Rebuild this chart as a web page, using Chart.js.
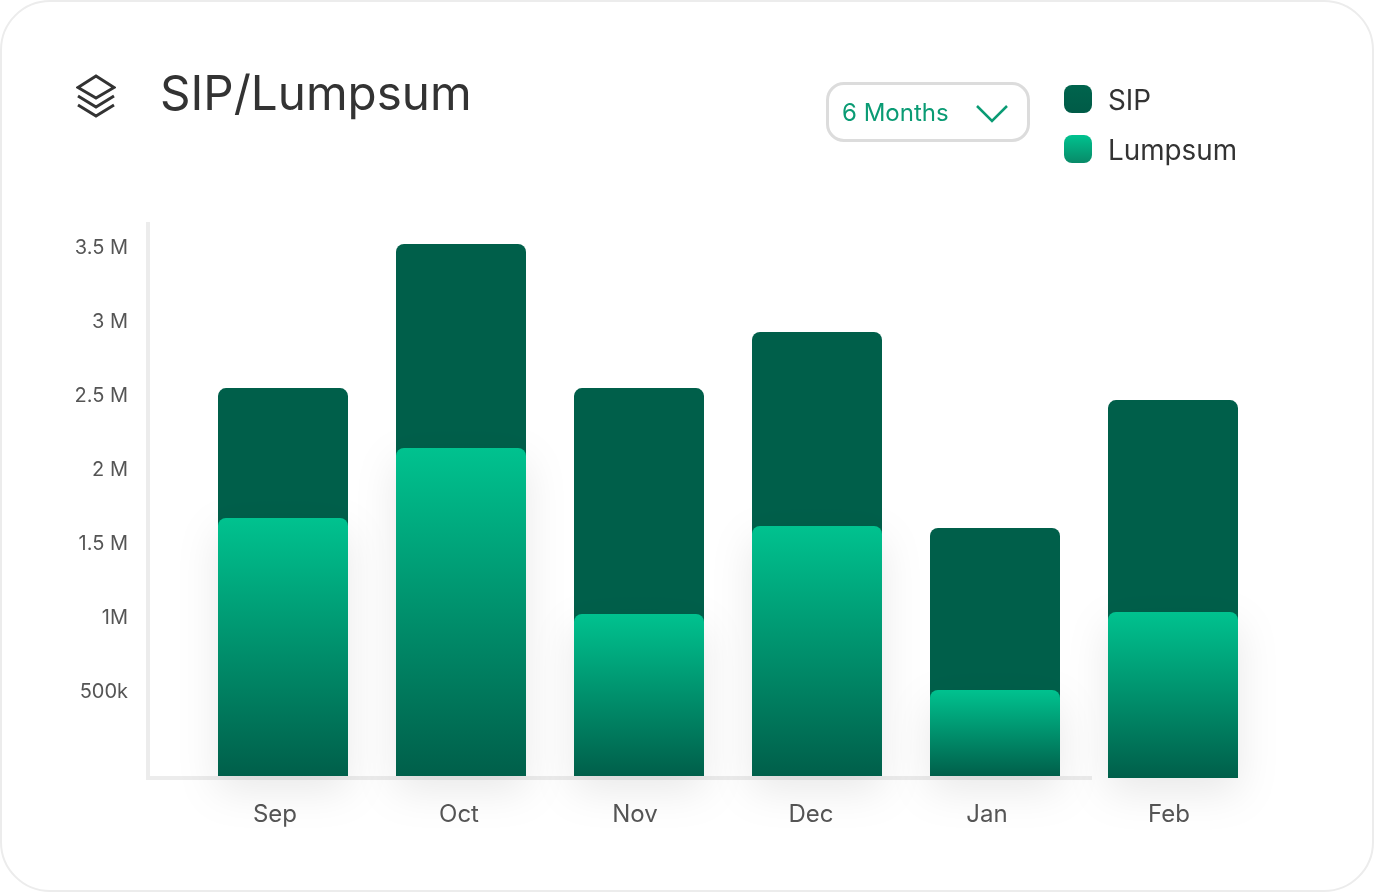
<!DOCTYPE html>
<html>
<head>
<meta charset="utf-8">
<title>SIP/Lumpsum</title>
<script src="https://cdn.jsdelivr.net/npm/chart.js@4"></script>
<style>
    html, body { margin: 0; padding: 0; background: #fff; }
    body { width: 1374px; height: 892px; position: relative; overflow: hidden; font-family: Inter, sans-serif; }
    #card { position: absolute; left: 0; top: 0; width: 1370px; height: 888px; border: 2px solid #ececec; border-radius: 50px; }
    #graph { position: absolute; left: 0; top: 0; }
    #icon { position: absolute; left: 76px; top: 74px; }
    #title { position: absolute; left: 160px; top: 64px; font-size: 47.6px; line-height: 58px; color: #333; }
    #select { position: absolute; left: 826px; top: 82px; width: 198px; height: 54px; border: 3px solid #dcdcdc; border-radius: 18px; }
    #select span { position: absolute; left: 13px; top: 12px; font-size: 24px; line-height: 32px; color: #0a9b74; }
    #select svg { position: absolute; left: 147px; top: 20px; }
    .legendBox { position: absolute; left: 1064px; width: 28px; height: 28px; border-radius: 8px; }
    .legendText { position: absolute; left: 1108px; font-size: 27.8px; line-height: 34px; color: #333; }
</style>
</head>
<body>
<div id="card"></div>
<canvas id="graph" width="1374" height="892"></canvas>
<svg id="icon" width="40" height="44" viewBox="0 0 40 44" fill="none" stroke="#333" stroke-width="3">
    <path d="M20 2 L38 13.5 L20 24 L2 13.5 Z"/>
    <path d="M2 22 L20 33 L38 22"/>
    <path d="M2 31 L20 42 L38 31"/>
</svg>
<div id="title">SIP/Lumpsum</div>
<div id="select">
    <span>6 Months</span>
    <svg width="32" height="18" viewBox="0 0 32 18" fill="none" stroke="#0a9b74" stroke-width="2.5"><path d="M1 1 L16 16 L31 1"/></svg>
</div>
<div class="legendBox" style="top:85px;background:linear-gradient(#00644d,#005b47)"></div>
<div class="legendText" style="top:83px">SIP</div>
<div class="legendBox" style="top:135px;background:linear-gradient(#00c28f,#088a68)"></div>
<div class="legendText" style="top:133px">Lumpsum</div>

<script>
var months = ["Sep", "Oct", "Nov", "Dec", "Jan", "Feb"];
var sipValues = [878000, 1379000, 1526000, 1311000, 1095000, 1432000];
var lumpsumValues = [1662000, 2135000, 1014000, 1608000, 500000, 1027000];
// the bars start a little under the 0 of the labels, Feb a bit lower than the others
var barFloors = [-81000, -81000, -81000, -81000, -81000, -94500];
var tickValues = [500000, 1000000, 1500000, 2000000, 2500000, 3000000, 3500000];
var tickLabels = ["500k", "1M", "1.5 M", "2 M", "2.5 M", "3 M", "3.5 M"];
// month labels do not sit exactly under their bars
var monthLabelShift = [-8, -2, -4, -6, -8, -4];

var lumpsumData = months.map(function (m, i) {
    return [barFloors[i], lumpsumValues[i]];
});
var sipData = months.map(function (m, i) {
    return [barFloors[i], lumpsumValues[i] + sipValues[i]];
});

function lumpsumFill(context) {
    var y = context.chart.scales.y;
    var i = context.dataIndex;
    if (i === undefined || !y) {
        return '#00c28f';
    }
    var top = y.getPixelForValue(lumpsumValues[i]);
    var bottom = y.getPixelForValue(barFloors[i]);
    // the scale has no size yet on the first pass, before the layout
    if (!isFinite(top) || !isFinite(bottom)) {
        return '#00c28f';
    }
    var grad = context.chart.ctx.createLinearGradient(0, top, 0, bottom);
    grad.addColorStop(0, '#00c28f');
    grad.addColorStop(1, '#005f4a');
    return grad;
}

var axisLines = {
    id: 'axisLines',
    beforeDatasetsDraw: function (chart) {
        var ctx = chart.ctx;
        var area = chart.chartArea;
        ctx.save();
        ctx.fillStyle = '#ececec';
        ctx.fillRect(area.left - 48, area.top, 4, area.bottom - area.top + 4);
        ctx.fillRect(area.left - 48, area.bottom, 946, 4);
        ctx.restore();
    }
};

var barShadow = {
    id: 'barShadow',
    beforeDatasetDraw: function (chart, args) {
        if (args.index === 0) {
            chart.ctx.save();
            chart.ctx.shadowColor = 'rgba(0, 0, 0, 0.09)';
            chart.ctx.shadowBlur = 40;
            chart.ctx.shadowOffsetY = 14;
        }
    },
    afterDatasetDraw: function (chart, args) {
        if (args.index === 0) {
            chart.ctx.restore();
        }
    }
};

var myChart = new Chart(document.getElementById('graph'), {
    type: 'bar',
    plugins: [axisLines, barShadow],
    data: {
        labels: months,
        datasets: [{
            label: 'Lumpsum',
            data: lumpsumData,
            backgroundColor: lumpsumFill,
            clip: false
        }, {
            label: 'SIP',
            data: sipData,
            backgroundColor: '#005f4a',
            clip: false
        }]
    },
    options: {
        responsive: false,
        animation: false,
        layout: { padding: { top: 222, right: 112 } },
        plugins: {
            legend: { display: false },
            tooltip: { enabled: false }
        },
        datasets: {
            bar: {
                grouped: false,
                barThickness: 130,
                inflateAmount: 0,
                borderSkipped: false,
                borderRadius: { topLeft: 8, topRight: 8, bottomLeft: 0, bottomRight: 0 }
            }
        },
        scales: {
            x: {
                grid: { display: false },
                border: { display: false },
                ticks: {
                    color: '#555',
                    font: { family: 'Inter', size: 24 },
                    padding: 16,
                    maxRotation: 0
                },
                afterFit: function (scale) {
                    scale.height = 116;
                    scale.getPixelForTick = function (i) {
                        return scale.getPixelForValue(i) + monthLabelShift[i];
                    };
                }
            },
            y: {
                min: -81081,
                max: 3662162,
                grid: { display: false },
                border: { display: false },
                afterBuildTicks: function (scale) {
                    scale.ticks = tickValues.map(function (v) {
                        return { value: v };
                    });
                },
                afterFit: function (scale) {
                    scale.width = 194;
                    // labels sit 2px under their tick position
                    scale.getPixelForTick = function (i) {
                        return scale.getPixelForValue(tickValues[i]) + 2;
                    };
                },
                ticks: {
                    color: '#555',
                    font: { family: 'Inter', size: 20 },
                    padding: 58,
                    autoSkip: false,
                    callback: function (value, i) {
                        return tickLabels[i];
                    }
                }
            }
        }
    }
});
</script>
</body>
</html>
